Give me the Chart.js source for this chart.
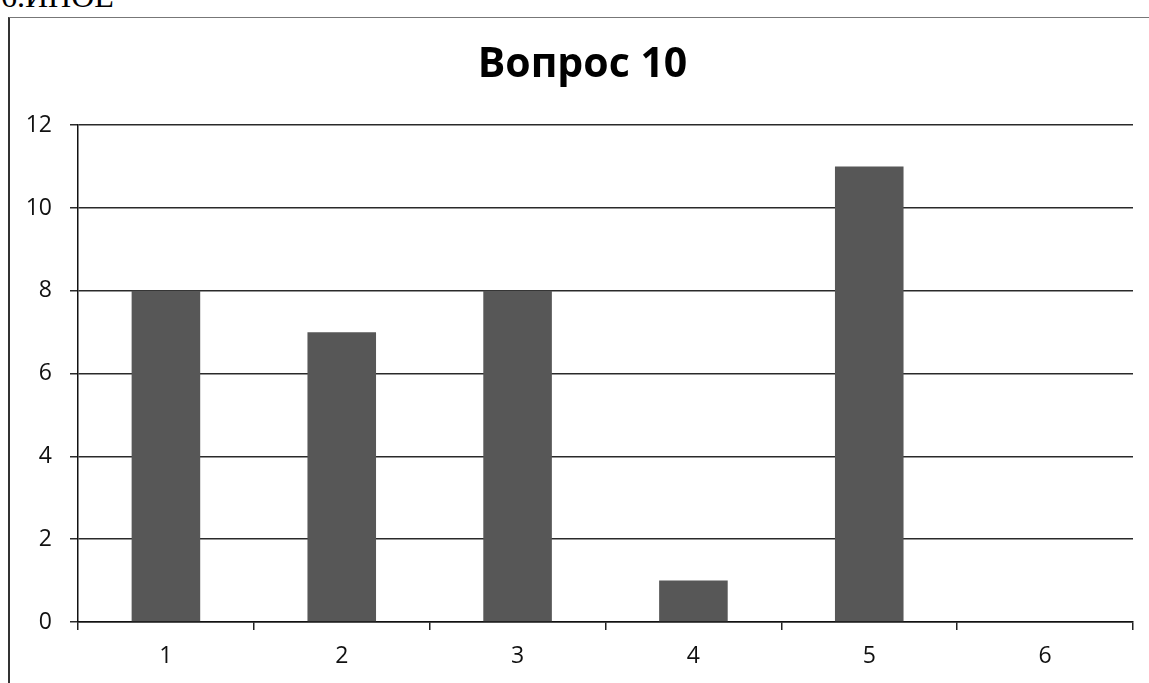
<!DOCTYPE html>
<html>
<head>
<meta charset="utf-8">
<script src="https://cdn.jsdelivr.net/npm/chart.js@4/dist/chart.umd.min.js"></script>
<style>
  html, body { margin: 0; padding: 0; background: #fff; }
  #wrap { position: relative; width: 1149px; height: 683px; overflow: hidden; }
  #note { position: absolute; left: 1px; top: -20px; font: 32px "Liberation Serif", serif; color: #000; line-height: 32px; }
  #frame { position: absolute; left: 8px; top: 17px; width: 1160px; height: 700px;
           border-left: 2px solid #333; border-top: 1px solid #777; }
  canvas { position: absolute; left: 0; top: 0; }
</style>
</head>
<body>
<div id="wrap">
  <div id="note">6.ИНОЕ</div>
  <div id="frame"></div>
  <canvas id="chart" width="1149" height="683"></canvas>
</div>
<script>
// data
const categories = ['1', '2', '3', '4', '5', '6'];
const answers = [8, 7, 8, 1, 11, 0];
const titleText = 'Вопрос 10';
const yMin = 0, yMax = 12, yStep = 2;

// title in the scan sits a bit right of the canvas centre
const shiftTitle = {
    id: 'shiftTitle',
    afterLayout(chart) {
        if (chart.titleBlock) chart.titleBlock.left += 32;
    }
};

const chart = new Chart(document.getElementById('chart'), {
    type: 'bar',
    plugins: [shiftTitle],
    data: {
        labels: categories,
        datasets: [{
            data: answers,
            backgroundColor: '#575757',
            borderWidth: 0,
            barPercentage: 0.39,
            categoryPercentage: 1
        }]
    },
    options: {
        responsive: false,
        animation: false,
        layout: { padding: { left: 0, right: 16, top: 0, bottom: 0 } },
        plugins: {
            legend: { display: false },
            tooltip: { enabled: false },
            title: {
                display: true,
                text: titleText,
                color: '#000',
                font: { family: 'Open Sans', size: 41, weight: 'bold' },
                padding: { top: 41, bottom: 35 }
            }
        },
        scales: {
            x: {
                grid: { drawOnChartArea: false, drawTicks: true, tickLength: 8, offset: true, color: '#222', lineWidth: 1.5 },
                border: { color: '#111', width: 1.5 },
                ticks: { color: '#111', font: { family: 'Open Sans', size: 23 }, padding: 13 },
                afterFit(scale) { scale.height = 61; }
            },
            y: {
                min: yMin, max: yMax,
                grid: { color: '#2a2a2a', lineWidth: 1.5, tickLength: 8 },
                border: { color: '#111', width: 1.5 },
                ticks: { stepSize: yStep, color: '#111', font: { family: 'Open Sans', size: 23 }, padding: 18 },
                afterFit(scale) { scale.width = 78; }
            }
        }
    }
});
</script>
</body>
</html>
